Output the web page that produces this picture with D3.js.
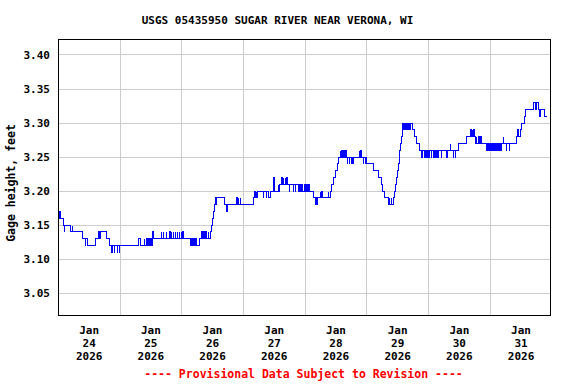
<!DOCTYPE html>
<html>
<head>
<meta charset="utf-8">
<script src="https://cdn.jsdelivr.net/npm/d3@7"></script>
<style>
body { margin: 0; background: #fff; }
text { font-family: "DejaVu Sans Mono", "Liberation Mono", monospace; font-weight: bold; font-size: 11px; }
</style>
</head>
<body>
<div id="chart"></div>
<script>
var title = "USGS 05435950 SUGAR RIVER NEAR VERONA, WI";
var yLabel = "Gage height, feet";
var footer = "---- Provisional Data Subject to Revision ----";
var yTicks = [3.05, 3.10, 3.15, 3.20, 3.25, 3.30, 3.35, 3.40];
var monthLabel = "Jan";
var yearLabel = "2026";
var dayLabels = ["24", "25", "26", "27", "28", "29", "30", "31"];

// readings: [hours after Jan 24 00:00, gage height ft], held until next reading
var gage = [
  [0,3.17],[0.25,3.16],[0.5,3.17],[0.75,3.16],[1.9,3.15],[2.4,3.14],[2.6,3.15],[4.9,3.14],[5.4,3.15],[5.55,3.14],
  [9.5,3.13],[10.6,3.12],[10.75,3.13],[11.3,3.12],[14.5,3.13],[15.8,3.14],[15.95,3.13],[16.4,3.14],[18.6,3.13],[19.8,3.12],
  [20.6,3.11],[20.9,3.12],[21.8,3.11],[21.95,3.12],[22.9,3.11],[23.05,3.12],[23.7,3.11],[23.85,3.12],
  [31.3,3.13],[31.8,3.12],[33.5,3.13],[33.65,3.12],[34.3,3.13],[34.8,3.12],[34.95,3.13],[35.6,3.12],[35.75,3.13],[36.3,3.12],
  [36.45,3.13],[36.7,3.14],[36.85,3.13],
  [40.0,3.14],[40.15,3.13],[40.8,3.14],[40.95,3.13],[42.0,3.14],[42.15,3.13],[43.3,3.14],[43.45,3.13],[44.0,3.14],[44.15,3.13],
  [44.8,3.14],[44.95,3.13],[45.6,3.14],[45.75,3.13],[46.4,3.14],[46.55,3.13],[47.1,3.14],[47.25,3.13],[47.8,3.14],[47.95,3.13],
  [48.5,3.14],[48.65,3.13],[51.6,3.12],[51.75,3.13],[52.3,3.12],[52.45,3.13],[52.9,3.12],[53.4,3.13],[53.9,3.12],[55.0,3.13],
  [55.8,3.14],[55.95,3.13],[56.6,3.14],[56.75,3.13],[57.4,3.14],[57.55,3.13],[58.3,3.14],[58.45,3.13],[59.2,3.14],[59.7,3.15],
  [60.1,3.16],[60.5,3.17],[60.9,3.18],[61.3,3.19],[61.5,3.18],[61.65,3.19],
  [64.6,3.18],[65.4,3.17],[65.9,3.18],[69.4,3.19],[69.55,3.18],[70.1,3.19],[70.25,3.18],[70.8,3.19],[70.95,3.18],
  [76.1,3.19],[76.4,3.20],[76.55,3.19],[77.0,3.20],[77.15,3.19],[77.5,3.20],[79.8,3.19],[79.95,3.20],[80.8,3.19],[80.95,3.20],
  [81.7,3.19],[82.6,3.20],[83.9,3.22],[84.05,3.20],[85.6,3.21],[85.75,3.20],[86.1,3.21],[86.9,3.22],[87.05,3.21],[87.6,3.22],
  [87.75,3.21],[88.3,3.22],[88.45,3.21],[88.9,3.22],[89.05,3.21],[89.8,3.20],[89.95,3.21],[91.4,3.20],[91.55,3.21],[92.2,3.20],
  [92.35,3.21],[93.4,3.20],[94.0,3.21],[94.15,3.20],[94.7,3.21],[94.85,3.20],[95.9,3.21],[96.05,3.20],[96.6,3.21],[96.75,3.20],
  [97.5,3.21],[97.65,3.20],[99.2,3.19],[99.9,3.18],[100.05,3.19],[100.5,3.18],[100.65,3.19],[101.8,3.20],[101.95,3.19],[102.5,3.20],
  [102.65,3.19],[105.0,3.20],[105.15,3.19],[105.7,3.20],[106.4,3.21],[107.2,3.22],[108.0,3.23],[108.5,3.24],[108.9,3.25],[109.6,3.26],
  [109.75,3.25],[110.1,3.26],[110.6,3.25],[110.75,3.26],[111.5,3.25],[111.65,3.26],[112.0,3.25],[112.4,3.24],[112.55,3.25],[113.2,3.24],
  [113.35,3.25],[113.9,3.24],[114.05,3.25],[114.6,3.24],[114.75,3.25],
  [117.0,3.26],[117.15,3.25],[117.6,3.26],[117.75,3.25],[118.6,3.24],[118.75,3.25],[119.3,3.24],[119.45,3.25],[120.0,3.24],[122.5,3.23],
  [124.5,3.22],[125.8,3.21],[126.2,3.20],[126.8,3.19],[128.4,3.18],[128.8,3.19],[128.95,3.18],[129.5,3.19],[129.65,3.18],[130.3,3.19],
  [130.6,3.20],[131.0,3.21],[131.6,3.22],[132.0,3.23],[132.3,3.24],[132.6,3.25],[132.9,3.26],[133.1,3.27],[133.4,3.28],[133.7,3.29],
  [134.0,3.30],[134.4,3.29],[134.55,3.30],[135.1,3.29],[135.25,3.30],[135.9,3.29],[136.05,3.30],[136.7,3.29],[136.85,3.30],[137.8,3.29],
  [138.4,3.28],[139.2,3.27],[140.6,3.26],[141.4,3.25],[141.8,3.26],[142.3,3.25],[142.45,3.26],[143.0,3.25],[143.15,3.26],[143.7,3.25],
  [143.85,3.26],[144.4,3.25],[144.55,3.26],[145.1,3.25],[145.25,3.26],[145.8,3.25],[145.95,3.26],[146.5,3.25],[146.65,3.26],[147.2,3.25],
  [147.35,3.26],[147.9,3.25],[148.05,3.26],[149.1,3.25],[149.25,3.26],[151.1,3.25],[151.25,3.26],[152.6,3.27],[152.75,3.26],[153.7,3.25],
  [153.85,3.26],[154.4,3.25],[154.55,3.26],[155.6,3.27],[158.9,3.28],[160.4,3.29],[160.55,3.28],[161.0,3.29],[161.15,3.28],[161.6,3.29],
  [161.75,3.28],[162.1,3.27],[162.6,3.28],[162.75,3.27],[163.4,3.28],[163.9,3.27],[164.3,3.28],[164.45,3.27],
  [166.6,3.26],[166.9,3.27],[167.2,3.26],[167.35,3.27],[167.8,3.26],[168.1,3.27],[168.7,3.26],[168.85,3.27],[169.3,3.26],[169.6,3.27],
  [170.2,3.26],[170.35,3.27],[170.8,3.26],[171.1,3.27],[171.6,3.26],[171.75,3.27],[172.2,3.26],[172.5,3.27],[173.1,3.28],[173.25,3.27],
  [174.2,3.26],[174.35,3.27],[175.4,3.26],[175.55,3.27],[178.3,3.28],[178.7,3.29],[178.85,3.28],[179.6,3.29],[180.3,3.30],[181.2,3.31],
  [181.9,3.32],[184.8,3.33],[185.5,3.32],[186.1,3.33],[186.8,3.32],[187.3,3.31],[187.6,3.32],[189.1,3.31],[190.0,3.31]
];

var width = 576, height = 384;
var plotL = 58.3, plotR = 551.9, plotT = 39, plotB = 316;

var t0 = Date.UTC(2026, 0, 24);
var data = gage.map(function(d) {
  return { date: new Date(t0 + d[0] * 3600e3), value: d[1] };
});

var x = d3.scaleUtc()
  .domain([new Date(t0), new Date(Date.UTC(2026, 1, 1))])
  .range([plotL, plotR]);

var y = d3.scaleLinear()
  .domain([3.0166, 3.4235])
  .range([plotB, plotT]);

var svg = d3.select("#chart").append("svg")
  .attr("width", width)
  .attr("height", height);

// grid
var days = d3.utcDay.range(new Date(t0 + 86400e3), new Date(Date.UTC(2026, 1, 1)));
svg.append("g").selectAll("line")
  .data(days)
  .enter().append("line")
  .attr("x1", function(d) { return Math.floor(x(d)) + 0.5; })
  .attr("x2", function(d) { return Math.floor(x(d)) + 0.5; })
  .attr("y1", plotT)
  .attr("y2", plotB)
  .attr("stroke", "#cccccc");

svg.append("g").selectAll("line")
  .data(yTicks)
  .enter().append("line")
  .attr("x1", plotL)
  .attr("x2", 551)
  .attr("y1", function(d) { return Math.floor(y(d)) + 0.5; })
  .attr("y2", function(d) { return Math.floor(y(d)) + 0.5; })
  .attr("stroke", "#cccccc");

// gage line, snapped to pixel centres
var line = d3.line()
  .curve(d3.curveStepAfter)
  .x(function(d) { return Math.floor(x(d.date)) + 0.5; })
  .y(function(d) { return Math.floor(y(d.value)) + 0.5; });

svg.append("path")
  .datum(data)
  .attr("d", line)
  .attr("fill", "none")
  .attr("stroke", "#0000ff")
  .attr("stroke-width", 1)
  .attr("shape-rendering", "crispEdges");

// frame
svg.append("rect")
  .attr("x", 58.5)
  .attr("y", 39.5)
  .attr("width", 492)
  .attr("height", 276)
  .attr("fill", "none")
  .attr("stroke", "#000");

// y tick labels
svg.append("g").selectAll("text")
  .data(yTicks)
  .enter().append("text")
  .attr("x", 50)
  .attr("y", function(d) { return y(d) + 4; })
  .attr("text-anchor", "end")
  .text(function(d) { return d3.format(".2f")(d); });

// x labels at noon of each day
var noon = d3.utcDay.range(new Date(t0), new Date(Date.UTC(2026, 1, 1))).map(function(d) {
  return new Date(+d + 12 * 3600e3);
});
var xl = svg.append("g").selectAll("text")
  .data(noon)
  .enter().append("text")
  .attr("text-anchor", "middle")
  .attr("transform", function(d) { return "translate(" + x(d) + ",0)"; });
xl.append("tspan").attr("x", 0).attr("y", 334).text(monthLabel);
xl.append("tspan").attr("x", 0).attr("y", 347).text(function(d, i) { return dayLabels[i]; });
xl.append("tspan").attr("x", 0).attr("y", 360).text(yearLabel);

svg.append("text")
  .attr("x", 277.5)
  .attr("y", 24)
  .attr("text-anchor", "middle")
  .text(title);

svg.append("text")
  .attr("transform", "translate(15,183) rotate(-90)")
  .attr("text-anchor", "middle")
  .style("font-size", "11.5px")
  .text(yLabel);

svg.append("text")
  .attr("x", 303.5)
  .attr("y", 378)
  .attr("text-anchor", "middle")
  .attr("fill", "#ff0000")
  .style("font-size", "11.5px")
  .text(footer);
</script>
</body>
</html>
